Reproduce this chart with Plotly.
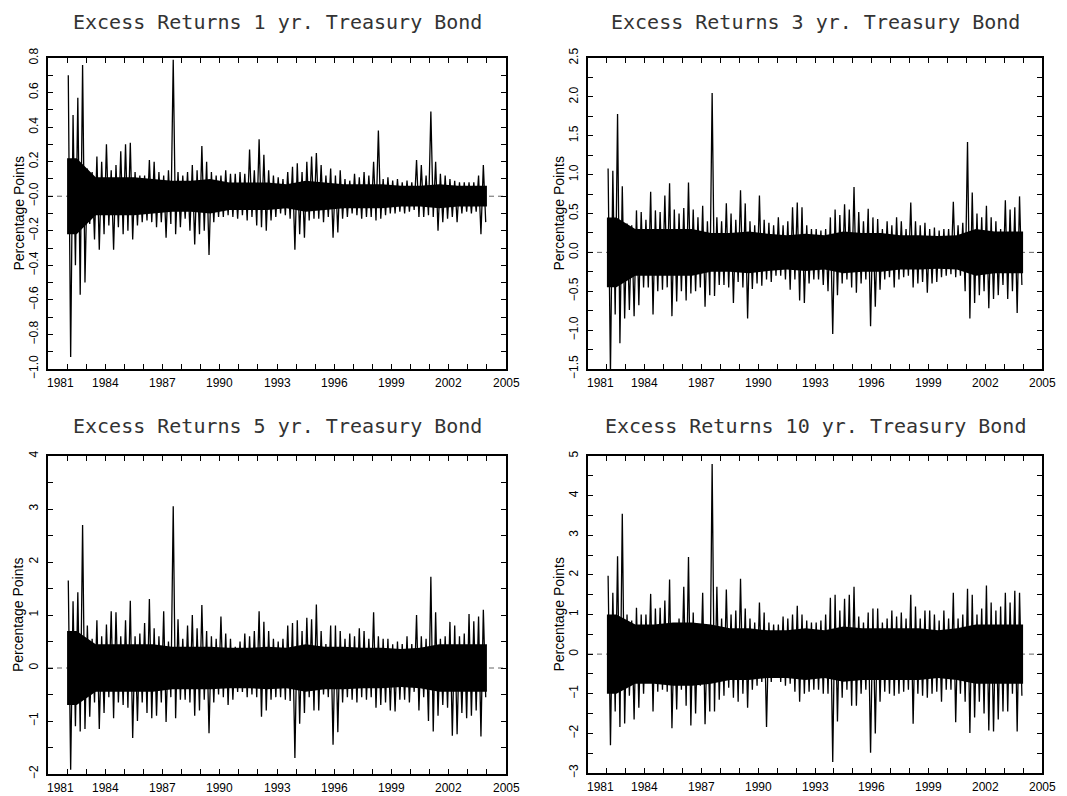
import plotly.graph_objects as go

# ---------------- data ----------------
START = 1982.0          # first observation
STEP = 0.25             # quarterly bins
CORE_STEP = 1.0         # yearly typical band

# 1-yr bond: quarterly max / min, yearly typical half-width
p1_hi = [0.70, 0.47, 0.57, 0.76, 0.16, 0.14, 0.23, 0.20, 0.30, 0.15, 0.18, 0.26,
         0.30, 0.31, 0.14, 0.12, 0.12, 0.21, 0.20, 0.14, 0.12, 0.15, 0.79, 0.14,
         0.12, 0.14, 0.18, 0.15, 0.29, 0.20, 0.14, 0.12, 0.12, 0.15, 0.13, 0.13,
         0.14, 0.13, 0.27, 0.15, 0.33, 0.24, 0.15, 0.12, 0.11, 0.10, 0.14, 0.17,
         0.19, 0.14, 0.20, 0.23, 0.25, 0.18, 0.12, 0.16, 0.12, 0.15, 0.10, 0.09,
         0.13, 0.11, 0.14, 0.12, 0.20, 0.38, 0.10, 0.11, 0.09, 0.10, 0.08, 0.09,
         0.08, 0.21, 0.18, 0.12, 0.49, 0.20, 0.13, 0.12, 0.10, 0.09, 0.08, 0.08,
         0.08, 0.08, 0.12, 0.18]
p1_lo = [-0.93, -0.40, -0.57, -0.50, -0.16, -0.25, -0.31, -0.22, -0.17, -0.31, -0.18, -0.22,
         -0.20, -0.25, -0.17, -0.15, -0.14, -0.15, -0.18, -0.15, -0.24, -0.16, -0.22, -0.18,
         -0.13, -0.20, -0.28, -0.22, -0.20, -0.34, -0.15, -0.12, -0.12, -0.11, -0.12, -0.13,
         -0.11, -0.14, -0.12, -0.17, -0.18, -0.20, -0.14, -0.12, -0.10, -0.11, -0.13, -0.31,
         -0.22, -0.24, -0.14, -0.13, -0.13, -0.15, -0.12, -0.24, -0.21, -0.13, -0.12, -0.10,
         -0.11, -0.13, -0.12, -0.12, -0.14, -0.13, -0.11, -0.10, -0.10, -0.09, -0.10, -0.09,
         -0.08, -0.12, -0.12, -0.11, -0.12, -0.20, -0.15, -0.13, -0.12, -0.15, -0.10, -0.09,
         -0.10, -0.09, -0.22, -0.15]
p1_core = [0.22, 0.11, 0.11, 0.11, 0.10, 0.09, 0.09, 0.10, 0.08, 0.08, 0.08,
           0.07, 0.09, 0.08, 0.07, 0.07, 0.07, 0.06, 0.06, 0.07, 0.06, 0.06]

# 3-yr bond
p2_hi = [1.08, 1.05, 1.78, 0.85, 0.37, 0.35, 0.54, 0.52, 0.42, 0.78, 0.54, 0.52,
         0.73, 0.89, 0.55, 0.50, 0.57, 0.90, 0.55, 0.45, 0.60, 0.40, 2.05, 0.45,
         0.40, 0.63, 0.50, 0.42, 0.80, 0.63, 0.40, 0.35, 0.73, 0.42, 0.38, 0.35,
         0.45, 0.35, 0.40, 0.58, 0.64, 0.58, 0.35, 0.30, 0.30, 0.28, 0.30, 0.45,
         0.55, 0.48, 0.62, 0.55, 0.84, 0.52, 0.40, 0.56, 0.45, 0.43, 0.30, 0.40,
         0.35, 0.45, 0.40, 0.30, 0.64, 0.40, 0.35, 0.38, 0.30, 0.32, 0.28, 0.30,
         0.30, 0.65, 0.35, 0.38, 1.42, 0.77, 0.50, 0.45, 0.60, 0.45, 0.40, 0.30,
         0.67, 0.55, 0.58, 0.72]
p2_lo = [-1.55, -0.80, -1.17, -0.85, -0.74, -0.82, -0.68, -0.45, -0.45, -0.80, -0.50, -0.48,
         -0.45, -0.82, -0.63, -0.50, -0.62, -0.53, -0.50, -0.45, -0.70, -0.55, -0.56, -0.42,
         -0.42, -0.45, -0.65, -0.38, -0.45, -0.85, -0.47, -0.40, -0.43, -0.35, -0.38, -0.30,
         -0.30, -0.35, -0.48, -0.35, -0.62, -0.65, -0.40, -0.35, -0.35, -0.42, -0.50, -1.05,
         -0.55, -0.40, -0.35, -0.45, -0.52, -0.40, -0.35, -0.95, -0.70, -0.48, -0.35, -0.32,
         -0.45, -0.35, -0.32, -0.30, -0.45, -0.40, -0.38, -0.52, -0.40, -0.38, -0.32, -0.30,
         -0.28, -0.32, -0.30, -0.50, -0.85, -0.65, -0.55, -0.50, -0.72, -0.60, -0.55, -0.42,
         -0.60, -0.50, -0.78, -0.42]
p2_core = [0.45, 0.30, 0.30, 0.30, 0.30, 0.25, 0.25, 0.27, 0.24, 0.22, 0.24,
           0.22, 0.27, 0.25, 0.25, 0.22, 0.22, 0.21, 0.22, 0.30, 0.27, 0.27]

# 5-yr bond
p3_hi = [1.65, 1.26, 1.43, 2.70, 0.80, 0.55, 0.90, 0.60, 0.82, 1.07, 1.05, 0.60,
         0.90, 1.27, 0.60, 0.65, 0.85, 1.30, 0.75, 0.60, 1.07, 0.50, 3.05, 0.92,
         0.55, 0.80, 1.00, 0.75, 1.19, 0.70, 0.60, 0.55, 0.97, 0.65, 0.55, 0.40,
         0.50, 0.65, 0.60, 0.70, 1.07, 0.87, 0.70, 0.55, 0.50, 0.55, 0.80, 0.85,
         0.90, 0.70, 0.95, 0.92, 1.20, 0.70, 0.45, 0.80, 0.80, 0.70, 0.55, 0.65,
         0.60, 0.75, 0.70, 0.55, 1.05, 0.60, 0.55, 0.55, 0.45, 0.50, 0.45, 0.60,
         0.45, 1.00, 0.60, 0.55, 1.72, 1.05, 0.55, 0.60, 0.87, 0.80, 0.60, 0.65,
         1.02, 0.88, 0.97, 1.10]
p3_lo = [-1.92, -1.10, -1.20, -1.15, -0.92, -0.65, -1.15, -0.85, -0.55, -0.95, -0.65, -0.70,
         -0.75, -1.32, -1.00, -0.65, -0.85, -0.95, -0.90, -0.65, -1.02, -0.55, -0.95, -0.60,
         -0.60, -0.65, -0.90, -0.80, -0.60, -1.23, -0.65, -0.50, -0.55, -0.70, -0.60, -0.45,
         -0.45, -0.55, -0.50, -0.55, -0.92, -0.80, -0.60, -0.55, -0.55, -0.60, -0.62, -1.70,
         -1.05, -0.85, -0.55, -0.80, -0.80, -0.50, -0.55, -1.45, -1.21, -0.65, -0.55, -0.60,
         -0.65, -0.55, -0.60, -0.55, -0.75, -0.70, -0.65, -0.80, -0.82, -0.60, -0.60, -0.65,
         -0.45, -0.80, -0.55, -1.00, -1.20, -0.90, -0.70, -0.75, -1.28, -1.25, -0.85, -0.95,
         -0.90, -0.80, -1.29, -0.55]
p3_core = [0.70, 0.45, 0.45, 0.45, 0.45, 0.40, 0.40, 0.40, 0.38, 0.38, 0.40,
           0.38, 0.45, 0.40, 0.40, 0.38, 0.38, 0.36, 0.38, 0.45, 0.45, 0.45]

# 10-yr bond
p4_hi = [1.98, 1.55, 2.47, 3.54, 1.00, 0.85, 1.17, 1.00, 1.00, 1.52, 1.15, 1.17,
         1.35, 1.88, 0.75, 0.90, 1.70, 2.45, 1.05, 0.75, 1.55, 0.65, 4.80, 1.70,
         0.90, 1.63, 1.00, 1.10, 1.90, 1.15, 0.90, 0.80, 1.30, 1.05, 0.80, 0.75,
         0.75, 0.95, 0.90, 1.00, 1.22, 1.00, 0.85, 0.80, 0.80, 0.85, 1.00, 1.42,
         1.50, 1.10, 1.40, 1.50, 1.70, 0.95, 0.80, 1.05, 1.15, 1.15, 0.80, 0.90,
         1.10, 0.95, 1.05, 0.90, 1.50, 1.20, 0.90, 1.10, 1.10, 1.00, 0.85, 1.10,
         0.90, 1.55, 0.90, 1.00, 1.65, 1.50, 1.00, 1.15, 1.73, 1.30, 1.10, 1.20,
         1.55, 1.30, 1.60, 1.55]
p4_lo = [-2.30, -1.45, -1.84, -1.75, -1.05, -1.65, -1.35, -1.00, -0.70, -1.45, -0.95, -0.90,
         -0.95, -1.87, -1.40, -0.90, -1.30, -1.80, -1.50, -0.80, -1.77, -1.45, -1.45, -1.15,
         -1.05, -0.85, -1.10, -1.20, -1.00, -1.35, -0.90, -0.80, -0.70, -1.84, -0.70, -0.60,
         -0.70, -0.80, -0.75, -0.95, -1.20, -1.00, -0.95, -0.90, -0.90, -1.00, -1.00, -2.72,
         -1.70, -1.10, -0.90, -1.30, -1.30, -1.00, -0.90, -2.49, -2.00, -1.20, -0.95, -1.00,
         -1.05, -1.00, -0.95, -0.90, -1.76, -1.00, -1.05, -1.10, -1.00, -0.95, -1.20, -0.90,
         -0.90, -1.72, -1.00, -1.20, -1.99, -1.60, -1.20, -1.50, -1.93, -1.95, -1.65, -1.45,
         -1.45, -1.00, -1.95, -1.05]
p4_core = [1.00, 0.75, 0.75, 0.80, 0.80, 0.75, 0.65, 0.65, 0.60, 0.60, 0.65,
           0.60, 0.70, 0.65, 0.65, 0.65, 0.65, 0.60, 0.65, 0.75, 0.75, 0.75]

titles = ["Excess Returns 1 yr. Treasury Bond", "Excess Returns 3 yr. Treasury Bond",
          "Excess Returns 5 yr. Treasury Bond", "Excess Returns 10 yr. Treasury Bond"]
y_title = "Percentage Points"

x_label_years = [1981, 1984, 1987, 1990, 1993, 1996, 1999, 2002, 2005]
x_tick_years = list(range(1981, 2006))
X_RANGE = [1981, 2005]

y_ranges = [[-1.0, 0.8], [-1.5, 2.5], [-2, 4], [-3, 5]]
y_tickvals = [
    [round(-1.0 + 0.1 * k, 2) for k in range(19)],
    [round(-1.5 + 0.25 * k, 2) for k in range(17)],
    [round(-2 + 0.5 * k, 2) for k in range(13)],
    [round(-3 + 0.5 * k, 2) for k in range(17)],
]
y_labels = [
    {0.8: "0.8", 0.6: "0.6", 0.4: "0.4", 0.2: "0.2", 0.0: "\u22120.0", -0.2: "\u22120.2",
     -0.4: "\u22120.4", -0.6: "\u22120.6", -0.8: "\u22120.8", -1.0: "\u22121.0"},
    {2.5: "2.5", 2.0: "2.0", 1.5: "1.5", 1.0: "1.0", 0.5: "0.5", 0.0: "0.0",
     -0.5: "\u22120.5", -1.0: "\u22121.0", -1.5: "\u22121.5"},
    {4: "4", 3: "3", 2: "2", 1: "1", 0: "0", -1: "\u22121", -2: "\u22122"},
    {5: "5", 4: "4", 3: "3", 2: "2", 1: "1", 0: "0", -1: "\u22121", -2: "\u22122", -3: "\u22123"},
]

panels_hi = [p1_hi, p2_hi, p3_hi, p4_hi]
panels_lo = [p1_lo, p2_lo, p3_lo, p4_lo]
panels_core = [p1_core, p2_core, p3_core, p4_core]

# ---------------- layout geometry (pixels) ----------------
W, H = 1067, 796
boxes = [(48, 506, 58, 369), (588, 1042, 58, 369),
         (48, 506, 456, 774), (588, 1042, 456, 773)]
title_y = [22, 22, 426, 426]
ytitle_x = [18, 558, 18, 558]

FONT = "Liberation Sans, Arial, sans-serif"
TITLE_FONT = "DejaVu Sans Mono, monospace"

fig = go.Figure()
layout = dict(width=W, height=H, margin=dict(l=0, r=0, t=0, b=0, pad=0, autoexpand=False),
              paper_bgcolor="white", plot_bgcolor="white", showlegend=False)
annotations = []
shapes = []

for i in range(4):
    sfx = "" if i == 0 else str(i + 1)
    xa, ya = "x" + sfx, "y" + sfx
    hi, lo, core = panels_hi[i], panels_lo[i], panels_core[i]
    end = START + STEP * len(hi)

    # typical (dense) band as filled polygon
    cx = [START] + [START + CORE_STEP * (k + 0.5) for k in range(len(core))] + [end]
    cy = [core[0]] + core + [core[-1]]
    fig.add_trace(go.Scatter(x=cx + cx[::-1], y=cy + [-v for v in cy[::-1]],
                             xaxis=xa, yaxis=ya, mode="lines", fill="toself",
                             fillcolor="black", line=dict(width=0, color="black"),
                             hoverinfo="skip"))
    # quarterly extremes as a zig-zag line
    zx, zy = [], []
    for q, (h, l) in enumerate(zip(hi, lo)):
        t0 = START + q * STEP
        zx += [t0 + STEP * 0.25, t0 + STEP * 0.75]
        zy += [h, l]
    fig.add_trace(go.Scatter(x=zx, y=zy, xaxis=xa, yaxis=ya, mode="lines",
                             line=dict(color="black", width=1.3), hoverinfo="skip"))

    x0, x1, yt, yb = boxes[i]
    common = dict(showline=True, linewidth=2, linecolor="black", mirror="ticks",
                  ticks="inside", ticklen=5, tickwidth=1, tickcolor="black",
                  showgrid=False, zeroline=False, automargin=False)
    layout["xaxis" + sfx] = dict(common, domain=[x0 / W, x1 / W], range=X_RANGE,
                                 anchor=ya, tickvals=x_tick_years, showticklabels=False)
    tv = y_tickvals[i]
    tt = [y_labels[i].get(v, "") for v in tv]
    layout["yaxis" + sfx] = dict(common, domain=[1 - yb / H, 1 - yt / H], range=y_ranges[i],
                                 anchor=xa, tickvals=tv, ticktext=tt, tickangle=-90,
                                 tickfont=dict(family=FONT, size=12, color="black"),
                                 ticklabelstandoff=3)
    # dashed zero line
    shapes.append(dict(type="line", xref=xa + " domain", yref=ya, x0=0, x1=1, y0=0, y1=0,
                       line=dict(color="#666666", width=1, dash="5px,4px"), layer="below"))
    # x tick labels
    for j, yr in enumerate(x_label_years):
        annotations.append(dict(x=yr, y=0, xref=xa, yref=ya + " domain", text=str(yr),
                                showarrow=False, yshift=-14, yanchor="middle",
                                xshift=12 if j == 0 else 0,
                                font=dict(family=FONT, size=12, color="black")))
    # titles
    annotations.append(dict(x=(x0 + x1) / 2 / W, y=1 - title_y[i] / H, xref="paper", yref="paper",
                            text=titles[i], showarrow=False, xanchor="center", yanchor="middle",
                            font=dict(family=TITLE_FONT, size=20, color="#333333")))
    annotations.append(dict(x=ytitle_x[i] / W, y=1 - (yt + yb) / 2 / H, xref="paper", yref="paper",
                            text=y_title, showarrow=False, textangle=-90,
                            xanchor="center", yanchor="middle",
                            font=dict(family=FONT, size=14, color="black")))

layout["annotations"] = annotations
layout["shapes"] = shapes
fig.update_layout(**layout)
fig.write_html("out.html", config={"displayModeBar": False, "staticPlot": True},
               post_script="document.body.style.margin='0px';"
                           "document.body.style.overflow='hidden';")
